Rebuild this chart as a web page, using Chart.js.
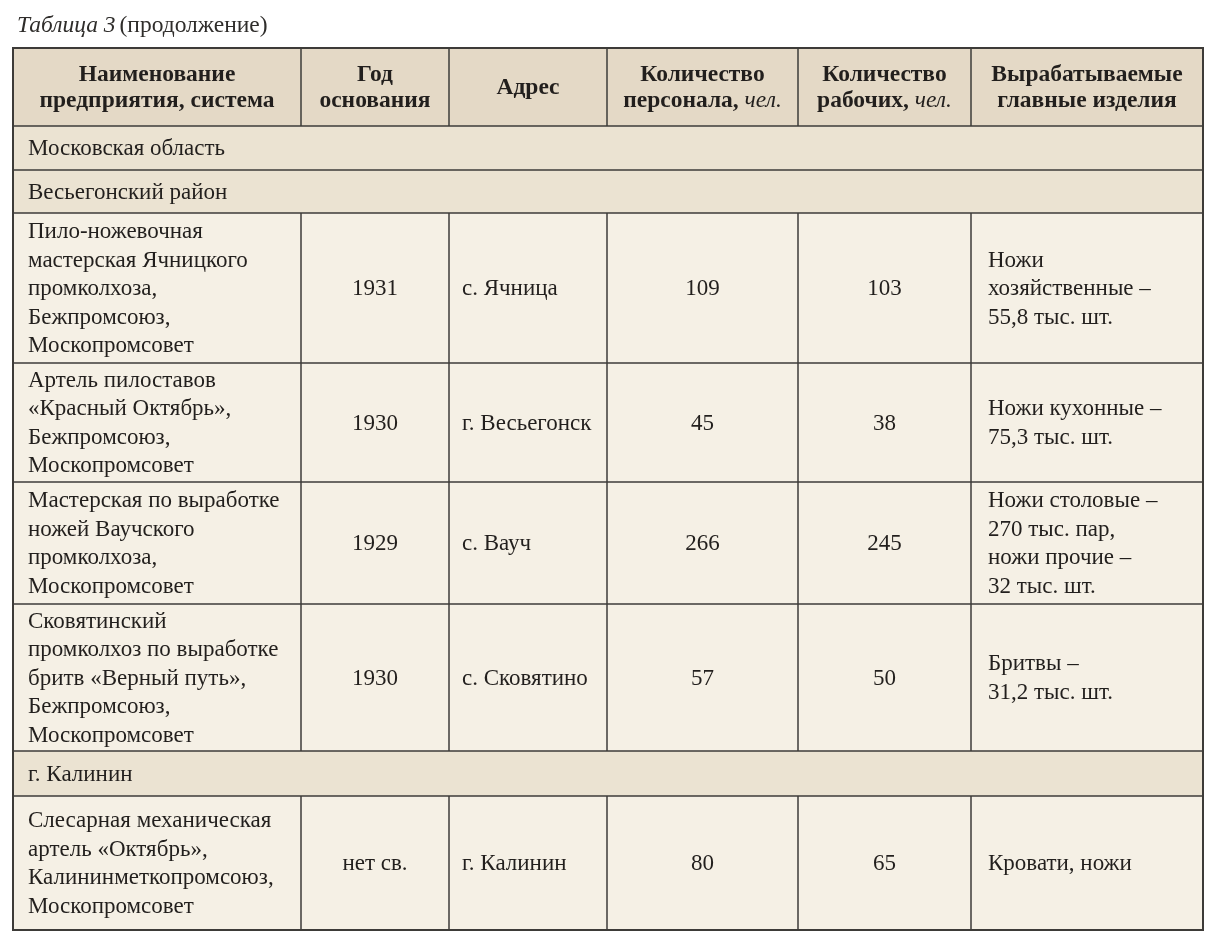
<!DOCTYPE html>
<html>
<head>
<meta charset="utf-8">
<script src="https://cdn.jsdelivr.net/npm/chart.js@4"></script>
<style>
  body { margin: 0; background: #fff; }
  canvas { display: block; }
</style>
</head>
<body>
<canvas id="chart" width="1224" height="943"></canvas>
<script>
// Данные таблицы (продолжение таблицы 3)
const headers = [
  ['Наименование', 'предприятия, система'],
  ['Год', 'основания'],
  ['Адрес'],
  ['Количество', 'персонала, |чел.'],
  ['Количество', 'рабочих, |чел.'],
  ['Вырабатываемые', 'главные изделия']
];
const names = [
  ['Пило-ножевочная', 'мастерская Ячницкого', 'промколхоза,', 'Бежпромсоюз,', 'Москопромсовет'],
  ['Артель пилоставов', '«Красный Октябрь»,', 'Бежпромсоюз,', 'Москопромсовет'],
  ['Мастерская по выработке', 'ножей Ваучского', 'промколхоза,', 'Москопромсовет'],
  ['Сковятинский', 'промколхоз по выработке', 'бритв «Верный путь»,', 'Бежпромсоюз,', 'Москопромсовет'],
  ['Слесарная механическая', 'артель «Октябрь»,', 'Калининметкопромсоюз,', 'Москопромсовет']
];
const years = ['1931', '1930', '1929', '1930', 'нет св.'];
const addresses = ['с. Ячница', 'г. Весьегонск', 'с. Вауч', 'с. Сковятино', 'г. Калинин'];
const personnel = [109, 45, 266, 57, 80];
const workers = [103, 38, 245, 50, 65];
const products = [
  ['Ножи', 'хозяйственные –', '55,8 тыс. шт.'],
  ['Ножи кухонные –', '75,3 тыс. шт.'],
  ['Ножи столовые –', '270 тыс. пар,', 'ножи прочие –', '32 тыс. шт.'],
  ['Бритвы –', '31,2 тыс. шт.'],
  ['Кровати, ножи']
];
// группы: заголовок -> перед какой строкой
const groupTitles = ['Московская область', 'Весьегонский район', 'г. Калинин'];
const groupBefore = [0, 0, 4];

// mise en page (pas des données)
const colWidths = [288, 148, 158, 191, 173, 232];
const colAlign = ['left', 'center', 'left', 'center', 'center', 'left'];
const colPad = [15, 0, 13, 0, 0, 17];
const headerHeight = 78;
const groupHeights = [44, 43, 45];
const rowHeights = [150, 119, 122, 147, 134];
const FONT = '"Liberation Serif", "DejaVu Serif", serif';
const bodySize = 23, headSize = 23.5, lineH = 28.5, headLineH = 26;

// construit la liste des rangées dans l'ordre
const rows = [{ kind: 'head', h: headerHeight }];
let g = 0;
names.forEach((n, i) => {
  while (g < groupTitles.length && groupBefore[g] === i) {
    rows.push({ kind: 'group', text: groupTitles[g], h: groupHeights[g] });
    g++;
  }
  rows.push({
    kind: 'row', h: rowHeights[i],
    cells: [n, [years[i]], [addresses[i]], [String(personnel[i])], [String(workers[i])], products[i]]
  });
});
const totalW = colWidths.reduce((a, b) => a + b, 0);
const totalH = rows.reduce((a, r) => a + r.h, 0);
const colEdges = [0];
colWidths.forEach(w => colEdges.push(colEdges[colEdges.length - 1] + w));

function drawLines(ctx, lines, x0, x1, yMid, align, pad, size, lh, bold) {
  const n = lines.length;
  lines.forEach((line, k) => {
    const y = yMid + (k - (n - 1) / 2) * lh;
    let parts = line.split('|');
    const f1 = (bold ? 'bold ' : '') + size + 'px ' + FONT;
    const f2 = 'italic ' + size + 'px ' + FONT;
    ctx.font = f1;
    const w1 = ctx.measureText(parts[0]).width;
    let w2 = 0;
    if (parts[1]) { ctx.font = f2; w2 = ctx.measureText(parts[1]).width; }
    let x = align === 'center' ? (x0 + x1) / 2 - (w1 + w2) / 2 : x0 + pad;
    ctx.textAlign = 'left';
    ctx.font = f1;
    ctx.fillText(parts[0], x, y);
    if (parts[1]) { ctx.font = f2; ctx.fillText(parts[1], x + w1, y); }
  });
}

const tablePlugin = {
  id: 'table',
  beforeDraw(chart) {
    const ctx = chart.ctx;
    const xs = chart.scales.x, ys = chart.scales.y;
    ctx.save();
    ctx.fillStyle = '#ffffff';
    ctx.fillRect(0, 0, chart.width, chart.height);

    // titre
    ctx.fillStyle = '#2f2d2b';
    ctx.textBaseline = 'alphabetic';
    ctx.font = 'italic 23.5px ' + FONT;
    const t1 = 'Таблица 3';
    ctx.fillText(t1, 17, 32);
    const tw = ctx.measureText(t1 + ' ').width;
    ctx.font = '23.5px ' + FONT;
    ctx.fillText('(продолжение)', 17 + tw - 2, 32);

    const X = v => xs.getPixelForValue(v);
    const Y = v => ys.getPixelForValue(v);
    const left = X(0), right = X(totalW);

    // fonds
    let acc = 0;
    rows.forEach(r => {
      const y0 = Y(acc), y1 = Y(acc + r.h);
      ctx.fillStyle = r.kind === 'head' ? '#e4d9c6' : r.kind === 'group' ? '#ebe3d2' : '#f5f0e5';
      ctx.fillRect(left, y0, right - left, y1 - y0);
      acc += r.h;
    });

    // textes
    ctx.fillStyle = '#221f1d';
    ctx.textBaseline = 'middle';
    acc = 0;
    rows.forEach(r => {
      const y0 = Y(acc), y1 = Y(acc + r.h), ym = (y0 + y1) / 2 + 1;
      if (r.kind === 'group') {
        drawLines(ctx, [r.text], left, right, ym, 'left', colPad[0], bodySize, lineH, false);
      } else {
        const cells = r.kind === 'head' ? headers : r.cells;
        cells.forEach((c, j) => {
          const al = r.kind === 'head' ? 'center' : colAlign[j];
          drawLines(ctx, c, X(colEdges[j]), X(colEdges[j + 1]), ym, al, colPad[j],
            r.kind === 'head' ? headSize : bodySize, r.kind === 'head' ? headLineH : lineH, r.kind === 'head');
        });
      }
      acc += r.h;
    });

    // lignes
    ctx.strokeStyle = '#3d3b38';
    ctx.lineWidth = 1.5;
    acc = 0;
    rows.forEach((r, i) => {
      const y0 = Y(acc), y1 = Y(acc + r.h);
      if (i > 0) {
        ctx.beginPath(); ctx.moveTo(left, y0); ctx.lineTo(right, y0); ctx.stroke();
      }
      if (r.kind !== 'group') {
        for (let j = 1; j < colEdges.length - 1; j++) {
          const x = X(colEdges[j]);
          ctx.beginPath(); ctx.moveTo(x, y0); ctx.lineTo(x, y1); ctx.stroke();
        }
      }
      acc += r.h;
    });
    ctx.lineWidth = 2;
    ctx.strokeRect(left, Y(0), right - left, Y(totalH) - Y(0));
    ctx.restore();
  }
};

const ctx = document.getElementById('chart').getContext('2d');
const chart = new Chart(ctx, {
  type: 'scatter',
  data: { datasets: [] },
  options: {
    responsive: false,
    animation: false,
    layout: { padding: { left: 13, right: 21, top: 48, bottom: 13 } },
    scales: {
      x: { type: 'linear', min: 0, max: totalW, display: false },
      y: { type: 'linear', min: 0, max: totalH, reverse: true, display: false }
    },
    plugins: { legend: { display: false }, tooltip: { enabled: false }, title: { display: false } }
  },
  plugins: [tablePlugin]
});
</script>
</body>
</html>
